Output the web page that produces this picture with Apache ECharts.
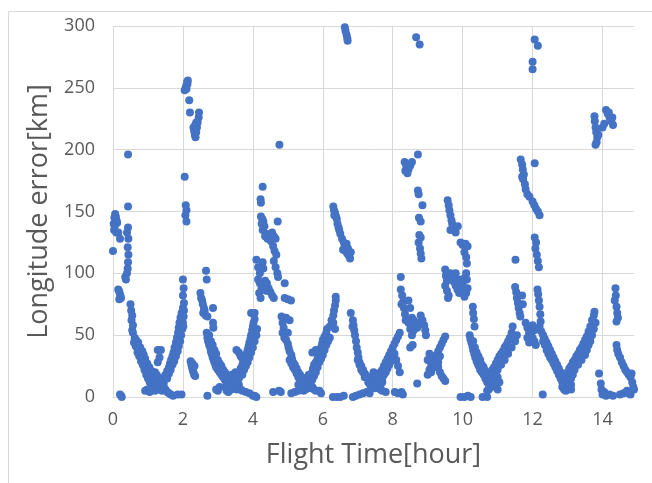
<!DOCTYPE html>
<html>
<head>
    <meta charset="utf-8" />
    <title>Longitude error</title>
    <script src="https://cdn.jsdelivr.net/npm/echarts@6/dist/echarts.min.js"></script>
    <style type="text/css">
        html, body { margin: 0; padding: 0; background: #fff; }
        #chart { width: 652px; height: 483px; }
    </style>
</head>
<body>
    <div id="chart"></div>
    <script>
        // [flight time (hour), longitude error (km)], one list per cycle
        const cycle1 = [
            [0.02, 140], [0.04, 145], [0.06, 148], [0.08, 146], [0.1, 143], [0.05, 138], [0.03, 135], [0.12, 141], [0.09, 133], [0.0, 118], [0.15, 133], [0.2, 128],
            [0.15, 87], [0.17, 86], [0.19, 84], [0.21, 82], [0.23, 80], [0.18, 79],
            [0.2, 2], [0.25, 0], [0.23, 1],
            [0.43, 137], [0.4, 133], [0.44, 128], [0.42, 121], [0.44, 115], [0.43, 109], [0.42, 104], [0.4, 100], [0.35, 97], [0.37, 95],
            [0.43, 196], [0.43, 154],
            [0.5, 75], [0.52, 70], [0.55, 66], [0.53, 62], [0.57, 58], [0.55, 54], [0.57, 52],
            [0.62, 48], [0.66, 46], [0.68, 43], [0.7, 40], [0.72, 38], [0.75, 36], [0.78, 34], [0.8, 32], [0.83, 30], [0.86, 28], [0.88, 26], [0.9, 24],
            [0.93, 22], [0.96, 20], [1.0, 18], [1.03, 16], [1.06, 14], [1.1, 12], [1.13, 11], [1.16, 10], [1.2, 8], [1.25, 7], [1.3, 6],
            [0.6, 44], [0.65, 41], [0.7, 36], [0.75, 33], [0.8, 29], [0.85, 26], [0.9, 22], [0.95, 18], [1.0, 15], [1.05, 12], [1.1, 9], [1.15, 7], [1.2, 5],
            [0.72, 44], [0.78, 40], [0.84, 37], [0.88, 34], [0.92, 31], [0.98, 27], [1.04, 24], [1.1, 21], [1.15, 18], [1.2, 15], [1.25, 13],
            [0.92, 5], [0.98, 6], [1.05, 4],
            [1.2, 20], [1.25, 18], [1.3, 16], [1.35, 13], [1.4, 10], [1.45, 8], [1.5, 6], [1.55, 4], [1.6, 3], [1.65, 2], [1.72, 1], [1.85, 2], [1.96, 2],
            [1.3, 9], [1.35, 7], [1.4, 5],
            [1.28, 38], [1.37, 38], [1.28, 28], [1.33, 32],
            [1.37, 8], [1.4, 12], [1.45, 15], [1.5, 18], [1.55, 21], [1.6, 24], [1.63, 27], [1.66, 30], [1.7, 33], [1.73, 36], [1.76, 40], [1.8, 44],
            [1.83, 48], [1.86, 52], [1.88, 56], [1.9, 60], [1.93, 64], [1.96, 68], [2.0, 72], [2.03, 76],
            [1.45, 11], [1.55, 15], [1.6, 19], [1.65, 22], [1.7, 26], [1.75, 29], [1.8, 33], [1.85, 37], [1.88, 41], [1.92, 45], [1.95, 50], [1.98, 55], [2.0, 60], [2.02, 65],
            [2.0, 95], [2.02, 88], [2.0, 82], [2.03, 70], [2.01, 57]
        ];

        const cycle2 = [
            [2.05, 248], [2.08, 250], [2.1, 252], [2.12, 255], [2.14, 256], [2.1, 249], [2.13, 253], [2.18, 240], [2.2, 230],
            [2.3, 218], [2.32, 215], [2.34, 212], [2.36, 210], [2.38, 214], [2.4, 218], [2.42, 222], [2.45, 226], [2.46, 230], [2.35, 220], [2.38, 222],
            [2.05, 178], [2.08, 155], [2.1, 151], [2.07, 147], [2.1, 142],
            [2.22, 29], [2.24, 26], [2.26, 24], [2.28, 22], [2.3, 20], [2.32, 18], [2.35, 17], [2.27, 27], [2.33, 25],
            [2.66, 102], [2.68, 95], [2.5, 84], [2.52, 80], [2.55, 78], [2.57, 75], [2.6, 72], [2.62, 70], [2.58, 68], [2.65, 66], [2.7, 65], [2.86, 72], [2.86, 60], [2.87, 56],
            [2.68, 52], [2.7, 48], [2.72, 45], [2.75, 42], [2.78, 40], [2.8, 37], [2.82, 35], [2.85, 32], [2.88, 30], [2.9, 28], [2.93, 26], [2.95, 24],
            [3.0, 22], [3.05, 20], [3.1, 18], [3.15, 16], [3.2, 14], [3.25, 12], [3.3, 10], [3.35, 8], [3.4, 6],
            [2.75, 50], [2.8, 45], [2.85, 42], [2.9, 38], [2.95, 35], [3.0, 30], [3.05, 27], [3.1, 25], [3.15, 22], [3.2, 20], [3.25, 18], [3.3, 15], [3.35, 13],
            [2.7, 1], [3.0, 5], [3.05, 8], [2.95, 6],
            [3.2, 8], [3.25, 5], [3.3, 4], [3.35, 6], [3.4, 10], [3.45, 12], [3.5, 8], [3.55, 6], [3.45, 16], [3.4, 18], [3.5, 20], [3.55, 15], [3.6, 10],
            [3.65, 6], [3.7, 5], [3.8, 4], [3.9, 3], [4.0, 1], [4.1, 0], [4.05, 1],
            [3.5, 14], [3.55, 17], [3.6, 20], [3.65, 23], [3.7, 26], [3.75, 29], [3.8, 32], [3.82, 35], [3.85, 38], [3.88, 41], [3.9, 44], [3.93, 47],
            [3.95, 50], [3.98, 54], [4.0, 57], [4.02, 60], [4.05, 63], [3.95, 68], [4.05, 68],
            [3.55, 12], [3.6, 15], [3.7, 18], [3.75, 22], [3.8, 25], [3.85, 28], [3.9, 32], [3.95, 36], [4.0, 40], [4.05, 45], [4.1, 50], [4.12, 55],
            [3.53, 38], [3.6, 36], [3.65, 33], [3.7, 31]
        ];

        const cycle3 = [
            [4.1, 111], [4.15, 105], [4.2, 100], [4.22, 160], [4.23, 157],
            [4.76, 204], [4.28, 170],
            [4.23, 146], [4.27, 144], [4.3, 142], [4.25, 140], [4.33, 138], [4.28, 135], [4.38, 132], [4.42, 128], [4.35, 130],
            [4.71, 142], [4.55, 133], [4.6, 130], [4.65, 128], [4.52, 126], [4.58, 122], [4.62, 118], [4.67, 115], [4.6, 110], [4.65, 105], [4.7, 100], [4.72, 97],
            [4.28, 109], [4.3, 104],
            [4.15, 95], [4.2, 92], [4.25, 88], [4.18, 84], [4.22, 80], [4.3, 90], [4.35, 94], [4.4, 92], [4.45, 88], [4.5, 85], [4.55, 82], [4.6, 80], [4.38, 86],
            [4.91, 92], [4.91, 80], [5.0, 79], [5.09, 78],
            [4.82, 65], [4.85, 60], [4.88, 56], [4.95, 64], [5.05, 62], [4.85, 52], [4.9, 48], [5.0, 52],
            [4.95, 46], [5.0, 43], [5.02, 40], [5.05, 37], [5.1, 34], [5.12, 31], [5.15, 28], [5.2, 26], [5.25, 23], [5.3, 20], [5.35, 18], [5.4, 15],
            [5.45, 13], [5.5, 11], [5.55, 9], [5.6, 7],
            [5.05, 30], [5.1, 27], [5.15, 24], [5.2, 22], [5.25, 19], [5.3, 16], [5.35, 14], [5.4, 12], [5.45, 10],
            [5.3, 10], [5.35, 8], [5.4, 6], [5.45, 5], [5.5, 6], [5.55, 8], [5.6, 10], [5.5, 14], [5.55, 16], [5.6, 18], [5.65, 12], [5.7, 8], [5.75, 6], [5.8, 5],
            [4.58, 4], [4.75, 5], [4.8, 4], [5.2, 4], [5.3, 5], [5.1, 3],
            [5.6, 15], [5.65, 18], [5.7, 20], [5.72, 23], [5.75, 26], [5.8, 28], [5.85, 31], [5.88, 34], [5.9, 37], [5.95, 40], [5.98, 43], [6.0, 46],
            [6.05, 49], [6.1, 52], [6.12, 55],
            [5.7, 14], [5.75, 17], [5.8, 20], [5.85, 24], [5.9, 28], [5.95, 31], [6.0, 34], [6.05, 38], [6.1, 42], [6.15, 45], [6.2, 48],
            [5.7, 36], [5.8, 38], [5.9, 5], [5.95, 3],
            [6.2, 57], [6.25, 62], [6.3, 66], [6.32, 70], [6.35, 74], [6.37, 78], [6.37, 81], [6.3, 60], [6.35, 55]
        ];

        const cycle4 = [
            [6.63, 299], [6.65, 296], [6.68, 293], [6.7, 290], [6.71, 288],
            [6.3, 154], [6.32, 151], [6.35, 149], [6.38, 146], [6.4, 144], [6.42, 140], [6.45, 137], [6.47, 135], [6.33, 147],
            [6.5, 132], [6.55, 128], [6.6, 125], [6.62, 121], [6.65, 118], [6.7, 116], [6.75, 114], [6.78, 112], [6.58, 119], [6.68, 124], [6.72, 120], [6.8, 117],
            [6.8, 68], [6.86, 62], [6.88, 58], [6.9, 54], [6.92, 50], [6.85, 57],
            [6.95, 45], [6.97, 40], [7.0, 36], [7.02, 32], [7.05, 28], [7.1, 25], [7.15, 22], [7.2, 19], [7.25, 17], [7.3, 15], [7.35, 13], [7.4, 11], [7.45, 9], [7.5, 7],
            [7.0, 30], [7.05, 26], [7.1, 22], [7.15, 20], [7.2, 16], [7.3, 12], [7.35, 10], [7.4, 8],
            [7.4, 14], [7.45, 12], [7.5, 10], [7.55, 9], [7.6, 8], [7.65, 10], [7.7, 12], [7.55, 14], [7.6, 16], [7.5, 18], [7.45, 20], [7.65, 6], [7.7, 5], [7.8, 4],
            [6.29, 0], [6.4, 0], [6.5, 0], [6.6, 1], [6.86, 0], [6.95, 1], [7.05, 2], [7.15, 3], [7.25, 4], [7.34, 3],
            [7.6, 18], [7.65, 20], [7.7, 22], [7.75, 25], [7.8, 28], [7.85, 31], [7.9, 34], [7.95, 37], [8.0, 40], [8.05, 43], [8.1, 46], [8.15, 49], [8.2, 52],
            [7.7, 15], [7.75, 18], [7.8, 20], [7.85, 23], [7.9, 26], [7.95, 29], [8.0, 32], [8.05, 35], [8.1, 30], [8.15, 25], [8.2, 20],
            [8.06, 4], [8.15, 3], [8.25, 4], [8.29, 2],
            [8.23, 97], [8.23, 87], [8.27, 82], [8.3, 77], [8.32, 72], [8.35, 67], [8.37, 62], [8.25, 75]
        ];

        const cycle5 = [
            [8.34, 190], [8.38, 188], [8.4, 186], [8.36, 183], [8.42, 181], [8.45, 184], [8.5, 187], [8.55, 190], [8.72, 196],
            [8.67, 291], [8.77, 285],
            [8.72, 167], [8.74, 164], [8.85, 155], [8.75, 145], [8.8, 142], [8.76, 131], [8.8, 129], [8.74, 125], [8.78, 120], [8.8, 116], [8.82, 112],
            [8.45, 60], [8.5, 62], [8.55, 64], [8.6, 62], [8.65, 58], [8.7, 56], [8.75, 60], [8.8, 66], [8.85, 62], [8.9, 58], [8.93, 54], [8.95, 50],
            [8.5, 55], [8.55, 50], [8.6, 54], [8.45, 78], [8.5, 72],
            [8.5, 40], [8.57, 42], [8.7, 11],
            [9.0, 18], [9.05, 22], [9.1, 26], [9.15, 28], [9.2, 31], [9.25, 34], [9.3, 37], [9.35, 40], [9.4, 43], [9.45, 46], [9.5, 49],
            [9.1, 20], [9.2, 24], [9.3, 28], [9.35, 33],
            [9.1, 32], [9.2, 28], [9.3, 24], [9.35, 20], [9.4, 17], [9.45, 15], [9.5, 13], [9.0, 30], [9.05, 35],
            [9.57, 159], [9.6, 155], [9.62, 151], [9.65, 147], [9.68, 143], [9.7, 140], [9.72, 137], [9.75, 135], [9.8, 133], [9.86, 138], [9.65, 135],
            [9.94, 125], [10.0, 123], [10.08, 124], [10.14, 122], [10.05, 117], [10.1, 113], [10.12, 108],
            [9.5, 103], [9.52, 98], [9.55, 94], [9.5, 90], [9.55, 86], [9.6, 82], [9.58, 80], [9.65, 100], [9.7, 97], [9.75, 93], [9.8, 90], [9.85, 87],
            [9.9, 84], [9.95, 88], [10.0, 92], [10.05, 96], [10.1, 100], [10.12, 95], [10.14, 88], [10.1, 84], [10.05, 81], [9.9, 95], [9.8, 100],
            [9.94, 0], [10.05, 0], [10.15, 1], [10.23, 0]
        ];

        const cycle6 = [
            [10.29, 73], [10.3, 68], [10.32, 63], [10.34, 57], [10.2, 50], [10.22, 47],
            [10.25, 44], [10.28, 41], [10.3, 38], [10.33, 35], [10.36, 32], [10.4, 29], [10.43, 27], [10.46, 25], [10.5, 22], [10.55, 20], [10.6, 18],
            [10.65, 15], [10.7, 12], [10.75, 10], [10.8, 8],
            [10.3, 45], [10.35, 40], [10.4, 36], [10.45, 33], [10.5, 30], [10.55, 26], [10.6, 24], [10.65, 21], [10.7, 18],
            [10.7, 5], [10.75, 6], [10.8, 12], [10.85, 14], [10.9, 10], [10.95, 8], [11.0, 6], [10.9, 18], [10.95, 20], [11.0, 16], [11.05, 12], [10.85, 22],
            [10.57, 0], [10.7, 0],
            [10.9, 24], [10.95, 27], [11.0, 30], [11.05, 33], [11.1, 35], [11.15, 37], [11.2, 40], [11.25, 42], [11.3, 45], [11.35, 48], [11.4, 52], [11.43, 57],
            [11.0, 22], [11.1, 26], [11.2, 30], [11.3, 35], [11.4, 40], [11.5, 45], [11.55, 50],
            [11.5, 89], [11.53, 85], [11.55, 80], [11.58, 76], [11.6, 72], [11.63, 68], [11.65, 65], [11.7, 82], [11.72, 75],
            [11.51, 111],
            [11.66, 192], [11.7, 188], [11.72, 184], [11.75, 180], [11.73, 176], [11.78, 172], [11.8, 168], [11.85, 164], [11.91, 162], [11.7, 178], [12.06, 189],
            [12.06, 289], [12.15, 284], [12.0, 271], [12.0, 265],
            [12.0, 158], [12.05, 155], [12.1, 152], [12.15, 150], [12.2, 147],
            [12.06, 129], [12.1, 125], [12.08, 120], [12.12, 115], [12.15, 110], [12.18, 105],
            [12.14, 87], [12.16, 83], [12.18, 78], [12.2, 73], [12.22, 67], [12.23, 61],
            [11.8, 60], [11.85, 56], [11.9, 52], [11.95, 50], [12.0, 48], [12.05, 45], [12.09, 42], [11.85, 48], [11.95, 56], [12.0, 58], [12.05, 54], [11.9, 44]
        ];

        const cycle7 = [
            [12.2, 57], [12.25, 53], [12.3, 50], [12.35, 47], [12.4, 44], [12.45, 41], [12.5, 38], [12.55, 35], [12.6, 32], [12.65, 29], [12.7, 26],
            [12.75, 23], [12.8, 20], [12.85, 17], [12.9, 14], [12.95, 11], [13.0, 9], [13.05, 7],
            [12.3, 45], [12.35, 42], [12.4, 38], [12.45, 35], [12.5, 32], [12.55, 30], [12.6, 27], [12.65, 24], [12.7, 21], [12.75, 18], [12.8, 15], [12.85, 12],
            [12.29, 2],
            [12.85, 8], [12.9, 6], [12.95, 5], [13.0, 6], [13.05, 8], [13.1, 10], [12.9, 18], [12.95, 16], [13.0, 14], [13.05, 12], [13.1, 15], [13.15, 18], [13.1, 6],
            [13.0, 20], [13.05, 23], [13.1, 25], [13.15, 28], [13.2, 30], [13.25, 33], [13.3, 35], [13.35, 38], [13.4, 40], [13.45, 43], [13.5, 46],
            [13.55, 49], [13.6, 53], [13.65, 57], [13.7, 62], [13.75, 66], [13.77, 69],
            [13.2, 22], [13.3, 26], [13.4, 30], [13.5, 34], [13.55, 38], [13.6, 42], [13.65, 45], [13.7, 50], [13.75, 55], [13.8, 60],
            [13.9, 19], [13.95, 11], [13.97, 6], [14.0, 2], [14.05, 4], [14.1, 1], [14.2, 2], [14.3, 1], [14.5, 2], [14.6, 3], [14.7, 5], [14.75, 3], [14.8, 2],
            [13.77, 227], [13.78, 223], [13.8, 218], [13.82, 214], [13.85, 210], [13.83, 206], [13.8, 204], [13.88, 212],
            [14.1, 232], [14.15, 229], [14.2, 226], [14.25, 223], [14.3, 220], [14.18, 230], [14.28, 226], [14.0, 218], [14.05, 221],
            [14.37, 88], [14.38, 82], [14.35, 78], [14.4, 73], [14.42, 68], [14.44, 64], [14.4, 61],
            [14.4, 42], [14.42, 38], [14.45, 35], [14.5, 32], [14.55, 28], [14.6, 25], [14.65, 22], [14.7, 20], [14.75, 18], [14.8, 16], [14.83, 19],
            [14.85, 12], [14.88, 8], [14.9, 6]
        ];

        const xTicks = { min: 0, max: 14.9, step: 2 };
        const yTicks = { min: 0, max: 300, step: 50 };

        const points = [].concat(cycle1, cycle2, cycle3, cycle4, cycle5, cycle6, cycle7);

        const chart = echarts.init(document.getElementById('chart'));

        const grey = '#595959';
        const gridGrey = '#d9d9d9';

        const option = {
            animation: false,
            backgroundColor: '#fff',
            textStyle: { fontFamily: 'Open Sans' },
            // chart area frame, as in the spreadsheet export
            graphic: [{
                type: 'rect',
                left: 6,
                top: 9,
                silent: true,
                z: -10,
                shape: { width: 720, height: 600 },
                style: { fill: 'none', stroke: gridGrey, lineWidth: 1 }
            }],
            grid: { left: 113, right: 18, top: 26, bottom: 86 },
            xAxis: {
                type: 'value',
                min: xTicks.min,
                max: xTicks.max,
                interval: xTicks.step,
                name: 'Flight Time[hour]',
                nameLocation: 'middle',
                nameGap: 45,
                nameTextStyle: { fontSize: 27, color: grey },
                axisLine: { show: true, lineStyle: { color: gridGrey } },
                axisTick: { show: false },
                axisLabel: { fontSize: 18, color: grey, margin: 14, showMaxLabel: false },
                splitLine: { show: true, showMaxLine: false, lineStyle: { color: gridGrey } }
            },
            yAxis: {
                type: 'value',
                min: yTicks.min,
                max: yTicks.max,
                interval: yTicks.step,
                name: 'Longitude error[km]',
                nameLocation: 'middle',
                nameGap: 56,
                nameTextStyle: { fontSize: 27, color: grey },
                axisLine: { show: false },
                axisTick: { show: false },
                axisLabel: { fontSize: 18, color: grey, margin: 18 },
                splitLine: { show: true, lineStyle: { color: gridGrey } }
            },
            series: [{
                type: 'scatter',
                data: points,
                symbol: 'circle',
                symbolSize: 8,
                itemStyle: { color: '#4472C4', opacity: 1 }
            }]
        };

        chart.setOption(option);
    </script>
</body>
</html>
